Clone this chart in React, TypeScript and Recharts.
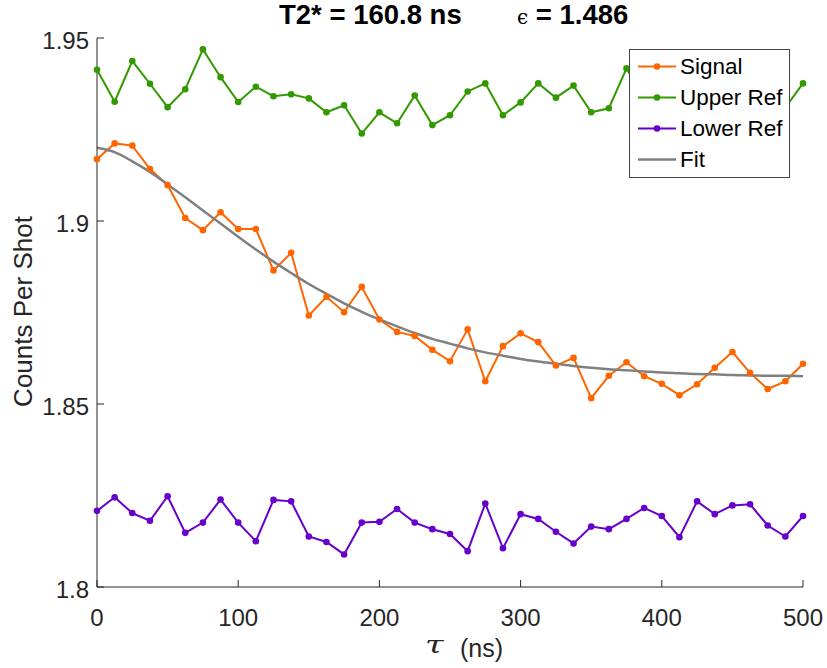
import React from "react";
import { LineChart, Line, XAxis, YAxis, Legend } from "recharts";

// delay values (ns)
const tauNs = [
  0, 12.5, 25, 37.5, 50, 62.5, 75, 87.5, 100, 112.5,
  125, 137.5, 150, 162.5, 175, 187.5, 200, 212.5, 225, 237.5,
  250, 262.5, 275, 287.5, 300, 312.5, 325, 337.5, 350, 362.5,
  375, 387.5, 400, 412.5, 425, 437.5, 450, 462.5, 475, 487.5, 500,
];

const signal = [
  1.9169, 1.9212, 1.9206, 1.9142, 1.9098, 1.9008, 1.8975, 1.9024, 1.8978, 1.8978,
  1.8865, 1.8913, 1.8742, 1.8793, 1.8751, 1.882, 1.8731, 1.8697, 1.8686, 1.8648,
  1.8617, 1.8704, 1.8562, 1.8658, 1.8693, 1.8669, 1.8605, 1.8626, 1.8516, 1.8577,
  1.8614, 1.8576, 1.8555, 1.8524, 1.8554, 1.8599, 1.8642, 1.8585, 1.8541, 1.8562, 1.861,
];

const upperRef = [
  1.9413, 1.9326, 1.9437, 1.9375, 1.9311, 1.936, 1.9469, 1.9393, 1.9325, 1.9367,
  1.9341, 1.9346, 1.9335, 1.9297, 1.9316, 1.9239, 1.9297, 1.9267, 1.9343, 1.9262,
  1.9289, 1.9354, 1.9376, 1.9289, 1.9324, 1.9376, 1.9337, 1.937, 1.9297, 1.9308,
  1.9417, 1.9335, 1.9372, 1.9318, 1.936, 1.9301, 1.9345, 1.929, 1.933, 1.931, 1.9376,
];

const lowerRef = [
  1.8208, 1.8245, 1.8202, 1.8181, 1.8248, 1.8148, 1.8176, 1.8239, 1.8176, 1.8125,
  1.8238, 1.8234, 1.8138, 1.8123, 1.8089, 1.8176, 1.8178, 1.8213, 1.8176, 1.8158,
  1.8145, 1.8098, 1.8228, 1.8106, 1.8199, 1.8186, 1.8151, 1.8119, 1.8165, 1.8158,
  1.8186, 1.8216, 1.8194, 1.8136, 1.8234, 1.8199, 1.8223, 1.8226, 1.8168, 1.8138, 1.8194,
];

const fit = [
  1.92, 1.9188, 1.9163, 1.9134, 1.91, 1.9065, 1.9029, 1.8993, 1.8957, 1.8922,
  1.8889, 1.8858, 1.8828, 1.8801, 1.8775, 1.8752, 1.8731, 1.8712, 1.8694, 1.8678,
  1.8665, 1.8652, 1.8641, 1.8632, 1.8623, 1.8616, 1.861, 1.8604, 1.8599, 1.8595,
  1.8592, 1.8589, 1.8586, 1.8584, 1.8582, 1.8581, 1.8579, 1.8578, 1.8577, 1.8577, 1.8576,
];

const xTicks = [0, 100, 200, 300, 400, 500];
const yTicks = [1.8, 1.85, 1.9, 1.95];

const COLORS = {
  signal: "#ff6600",
  upper: "#339900",
  lower: "#6600cc",
  fit: "#808080",
};
const FONT = "'Liberation Sans', Arial, Helvetica, sans-serif";
const AXIS = "#262626";
const TICK_LEN = 7;

const chartData = tauNs.map((t, i) => ({
  t,
  signal: signal[i],
  upper: upperRef[i],
  lower: lowerRef[i],
  fit: fit[i],
}));

const legendItems = [
  { name: "Signal", color: COLORS.signal, dot: true },
  { name: "Upper Ref", color: COLORS.upper, dot: true },
  { name: "Lower Ref", color: COLORS.lower, dot: true },
  { name: "Fit", color: COLORS.fit, dot: false },
];

// MATLAB-style inward ticks
const BottomTick = ({ x, y, payload }: any) => (
  <g>
    <line x1={x} y1={y} x2={x} y2={y - TICK_LEN} stroke={AXIS} />
    <text x={x} y={y + 39} textAnchor="middle" fontFamily={FONT} fontSize={24} fill={AXIS}>
      {payload.value}
    </text>
  </g>
);

const LeftTick = ({ x, y, payload }: any) => (
  <g>
    <line x1={x} y1={y} x2={x + TICK_LEN} y2={y} stroke={AXIS} />
    <text x={x - 8} y={y + 11} textAnchor="end" fontFamily={FONT} fontSize={24} fill={AXIS}>
      {payload.value}
    </text>
  </g>
);

const TopTick = ({ x, y }: any) => (
  <line x1={x} y1={y} x2={x} y2={y + TICK_LEN} stroke={AXIS} />
);

const RightTick = ({ x, y }: any) => (
  <line x1={x} y1={y} x2={x - TICK_LEN} y2={y} stroke={AXIS} />
);

function LegendBox() {
  return (
    <div
      style={{
        width: 161,
        height: 129,
        boxSizing: "border-box",
        border: "1px solid #444",
        background: "#fff",
        fontFamily: FONT,
        fontSize: 22.5,
        color: "#000",
        paddingTop: 1,
      }}
    >
      {legendItems.map((it) => (
        <div key={it.name} style={{ height: 31, display: "flex", alignItems: "center" }}>
          <svg width={48} height={31} style={{ flex: "none" }}>
            <line x1={8} x2={46} y1={15.5} y2={15.5} stroke={it.color} strokeWidth={it.dot ? 2 : 2.5} />
            {it.dot && <circle cx={27} cy={15.5} r={3.3} fill={it.color} />}
          </svg>
          <span style={{ marginLeft: 2, lineHeight: "31px" }}>{it.name}</span>
        </div>
      ))}
    </div>
  );
}

export default function App() {
  return (
    <div style={{ position: "absolute", left: 0, top: 0, width: 827, height: 668, background: "#fff" }}>
      <LineChart
        width={827}
        height={668}
        data={chartData}
        margin={{ top: 38, right: 24, left: 0, bottom: 31 }}
      >
        <XAxis
          dataKey="t"
          type="number"
          domain={[0, 500]}
          ticks={xTicks}
          interval={0}
          height={50}
          tickSize={0}
          tickMargin={0}
          tickLine={false}
          axisLine={{ stroke: AXIS }}
          tick={<BottomTick />}
        />
        <XAxis
          xAxisId="top"
          orientation="top"
          dataKey="t"
          type="number"
          domain={[0, 500]}
          ticks={xTicks}
          interval={0}
          height={0}
          tickSize={0}
          tickMargin={0}
          tickLine={false}
          axisLine={{ stroke: AXIS }}
          tick={<TopTick />}
        />
        <YAxis
          type="number"
          domain={[1.8, 1.95]}
          ticks={yTicks}
          interval={0}
          width={97}
          tickSize={0}
          tickMargin={0}
          tickLine={false}
          axisLine={{ stroke: AXIS }}
          tick={<LeftTick />}
        />
        <YAxis
          yAxisId="right"
          orientation="right"
          type="number"
          domain={[1.8, 1.95]}
          ticks={yTicks}
          interval={0}
          width={0}
          tickSize={0}
          tickMargin={0}
          tickLine={false}
          axisLine={{ stroke: AXIS }}
          tick={<RightTick />}
        />
        <Line
          dataKey="signal"
          name="Signal"
          type="linear"
          stroke={COLORS.signal}
          strokeWidth={2}
          dot={{ r: 3.3, fill: COLORS.signal, stroke: COLORS.signal, strokeWidth: 0 }}
          activeDot={false}
          isAnimationActive={false}
        />
        <Line
          dataKey="upper"
          name="Upper Ref"
          type="linear"
          stroke={COLORS.upper}
          strokeWidth={2}
          dot={{ r: 3.3, fill: COLORS.upper, stroke: COLORS.upper, strokeWidth: 0 }}
          activeDot={false}
          isAnimationActive={false}
        />
        <Line
          dataKey="lower"
          name="Lower Ref"
          type="linear"
          stroke={COLORS.lower}
          strokeWidth={2}
          dot={{ r: 3.3, fill: COLORS.lower, stroke: COLORS.lower, strokeWidth: 0 }}
          activeDot={false}
          isAnimationActive={false}
        />
        <Line
          dataKey="fit"
          name="Fit"
          type="monotone"
          stroke={COLORS.fit}
          strokeWidth={2.5}
          dot={false}
          activeDot={false}
          isAnimationActive={false}
        />
        <Legend
          layout="vertical"
          align="center"
          verticalAlign="middle"
          content={<LegendBox />}
          wrapperStyle={{ left: 629, top: 49, width: 161, height: 129 }}
        />
      </LineChart>
      <svg
        width={827}
        height={668}
        style={{ position: "absolute", left: 0, top: 0, pointerEvents: "none" }}
      >
        <text x={279} y={24} fontFamily={FONT} fontWeight="bold" fontSize={27.5} fill="#000">
          T2* = 160.8 ns
        </text>
        <text x={517} y={24} fontSize={27.5} fill="#000">
          <tspan fontFamily="'DejaVu Serif', serif" fontSize={20}>ϵ</tspan>
          <tspan fontFamily={FONT} fontWeight="bold"> = 1.486</tspan>
        </text>
        <text
          transform="translate(32, 311.5) rotate(-90)"
          textAnchor="middle"
          fontFamily={FONT}
          fontSize={26}
          fill={AXIS}
        >
          Counts Per Shot
        </text>
        <text
          transform="translate(425, 653) scale(1.35, 1)"
          fontFamily="'DejaVu Serif', 'Liberation Serif', serif"
          fontStyle="italic"
          fontWeight="normal"
          fontSize={25}
          fill={AXIS}
        >
          τ
        </text>
        <text x={460} y={657} fontFamily={FONT} fontSize={25} fill={AXIS}>
          (ns)
        </text>
      </svg>
    </div>
  );
}
